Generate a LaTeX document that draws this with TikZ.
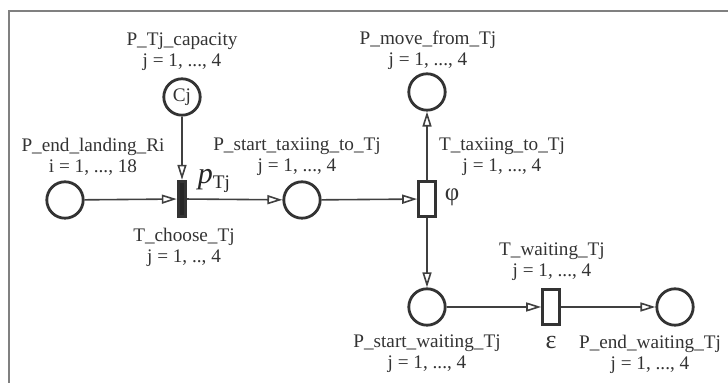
\documentclass[tikz,border=0pt]{standalone}
\usepackage{fontspec}
\setmainfont{Liberation Serif}
\usetikzlibrary{arrows.meta}

\begin{document}
\begin{tikzpicture}[x=0.5pt,y=-0.5pt,>={Triangle[open,length=7.5pt,width=4.5pt]},
  place/.style={circle,draw=black!80,line width=1.4pt,minimum size=18.2pt,inner sep=0pt,
    font=\fontsize{9.6}{10.5}\selectfont,text=black!80},
  trans/.style={rectangle,draw=black!80,line width=1.4pt,minimum width=8.4pt,minimum height=17.8pt,inner sep=0pt},
  bar/.style={trans,fill=black!85,minimum width=3.8pt},
  arc/.style={->,draw=black!75,line width=0.8pt},
  lbl/.style={align=center,text=black!80,font=\fontsize{9.6}{10.5}\selectfont}]
\useasboundingbox (0,0) rectangle (728,383);
% frame, cut off at the right and bottom
\draw[black!50,line width=1pt] (9,383) -- (9,11) -- (728,11);
% places and transitions
\node[place] (Rland) at (65,200) {};
\node[bar] (Tchoose) at (182,199) {};
\node[place] (Cap) at (182,97) {Cj};
\node[place] (Pstart) at (302,200) {};
\node[trans] (Ttaxi) at (427,199) {};
\node[place] (Pmove) at (427,92) {};
\node[place] (Pwait) at (427,307) {};
\node[trans] (Twait) at (551,307) {};
\node[place] (Pendw) at (675,307) {};
% arcs
\draw[arc] (Rland) -- (Tchoose);
\draw[arc] (Cap) -- (Tchoose);
\draw[arc] (Tchoose) -- (Pstart);
\draw[arc] (Pstart) -- (Ttaxi);
\draw[arc] (Ttaxi) -- (Pmove);
\draw[arc] (Ttaxi) -- (Pwait);
\draw[arc] (Pwait) -- (Twait);
\draw[arc] (Twait) -- (Pendw);
% labels
\node[lbl] (capL) at (182,52) {P\_Tj\_capacity\\j = 1, ..., 4};
\node[lbl] (landL) at (93,157) {P\_end\_landing\_Ri\\i = 1, ..., 18};
\node[text=black!85,font=\fontsize{15}{15}\selectfont] (pL) at (214,181)
  {\textit{p}\raisebox{-0.35ex}{\fontsize{9.6}{9.6}\selectfont Tj}};
\node[lbl] (startL) at (297,157) {P\_start\_taxiing\_to\_Tj\\j = 1, ..., 4};
\node[lbl] (moveL) at (428,50) {P\_move\_from\_Tj\\j = 1, ..., 4};
\node[lbl] (taxiL) at (502,157) {T\_taxiing\_to\_Tj\\j = 1, ..., 4};
\node[text=black!80,font=\fontsize{12.5}{12.5}\selectfont] (phiL) at (452,197) {φ};
\node[lbl] (chooseL) at (184,247) {T\_choose\_Tj\\j = 1, .., 4};
\node[lbl] (waitL) at (552,262) {T\_waiting\_Tj\\j = 1, ..., 4};
\node[lbl] (swaitL) at (427,354) {P\_start\_waiting\_Tj\\j = 1, ..., 4};
\node[text=black!80,font=\fontsize{13}{13}\selectfont] (epsL) at (551,343) {ε};
\node[lbl] (ewaitL) at (650,354) {P\_end\_waiting\_Tj\\j = 1, ..., 4};
\end{tikzpicture}
\end{document}
